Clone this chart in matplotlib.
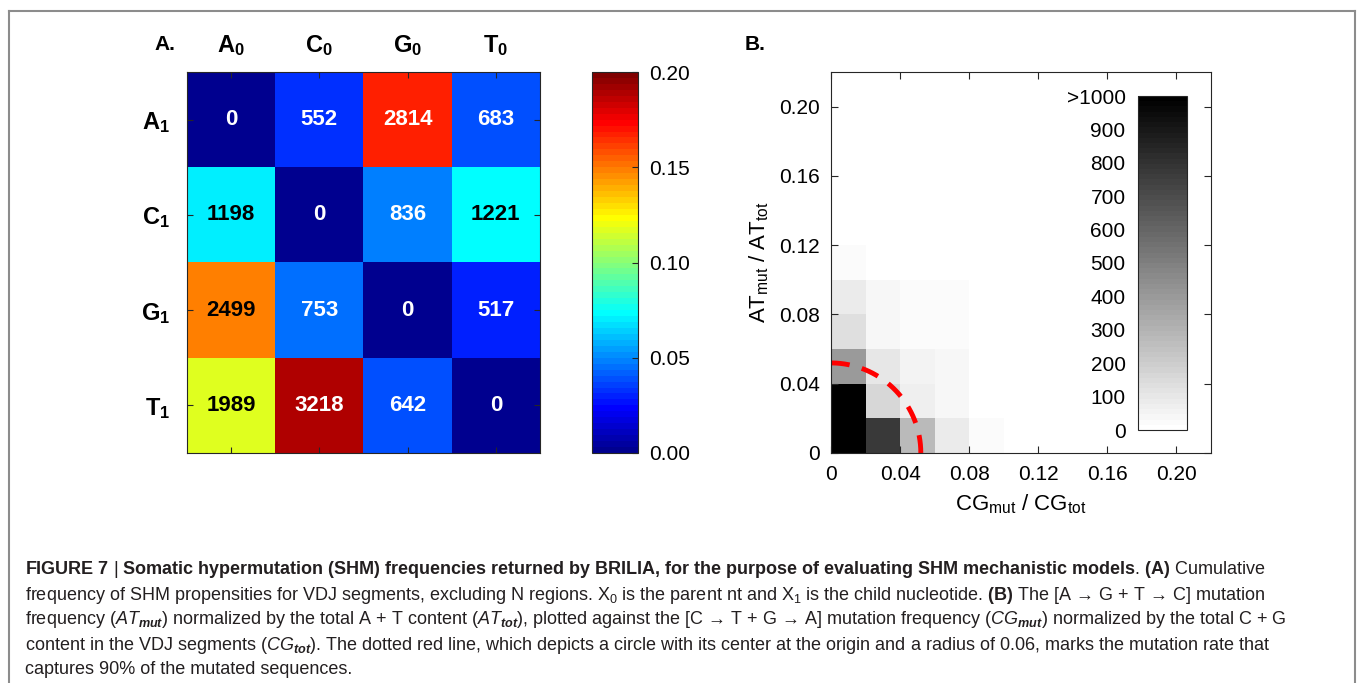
import numpy as np
import matplotlib
matplotlib.use("Agg")
import matplotlib.pyplot as plt
from matplotlib.lines import Line2D
from matplotlib.colors import ListedColormap

plt.rcParams['font.family'] = ['Liberation Sans', 'DejaVu Sans']
plt.rcParams['mathtext.fontset'] = 'custom'
plt.rcParams['mathtext.rm'] = 'Liberation Sans'
plt.rcParams['mathtext.it'] = 'Liberation Sans:italic'
plt.rcParams['mathtext.bf'] = 'Liberation Sans:bold'
plt.rcParams['mathtext.bfit'] = 'Liberation Sans:italic:bold'

# panel A: counts of parent (cols) -> child (rows) nucleotide
parent_labels = [r'$\mathbf{A_0}$', r'$\mathbf{C_0}$', r'$\mathbf{G_0}$', r'$\mathbf{T_0}$']
child_labels = [r'$\mathbf{A_1}$', r'$\mathbf{C_1}$', r'$\mathbf{G_1}$', r'$\mathbf{T_1}$']
counts_A1 = [0, 552, 2814, 683]
counts_C1 = [1198, 0, 836, 1221]
counts_G1 = [2499, 753, 0, 517]
counts_T1 = [1989, 3218, 642, 0]
cbarA_ticks = [0.00, 0.05, 0.10, 0.15, 0.20]

# panel B: 2d histogram, bins of 0.02 (rows = AT bins from 0, cols = CG bins from 0)
bin_edges = [0, 0.02, 0.04, 0.06, 0.08, 0.10, 0.12]
hist_row0 = [2500, 780, 270, 80, 30, 0]
hist_row1 = [2000, 165, 75, 45, 0, 0]
hist_row2 = [400, 100, 60, 45, 0, 0]
hist_row3 = [140, 40, 30, 30, 0, 0]
hist_row4 = [80, 40, 30, 25, 0, 0]
hist_row5 = [25, 0, 0, 0, 0, 0]
axis_ticks = [0, 0.04, 0.08, 0.12, 0.16, 0.20]
axis_ticklabels = ['0', '0.04', '0.08', '0.12', '0.16', '0.20']
cbarB_ticks = [0, 100, 200, 300, 400, 500, 600, 700, 800, 900, 1000]
cbarB_labels = ['0', '100', '200', '300', '400', '500', '600', '700', '800', '900', '>1000']
circle_r = 0.052


def matlab_jet(n=64):
    # same recipe as matlab's jet.m
    m = int(np.ceil(n / 4))
    u = np.concatenate([np.arange(1, m + 1) / m, np.ones(m - 1), np.arange(m, 0, -1) / m])
    g = int(np.ceil(m / 2)) - (1 if n % 4 == 1 else 0) + np.arange(1, len(u) + 1)
    r = g + m
    b = g - m
    J = np.zeros((n, 3))
    for col, idx in ((0, r), (1, g), (2, b)):
        ok = (idx >= 1) & (idx <= n)
        J[idx[ok] - 1, col] = u[ok]
    return ListedColormap(J)


W, H = 1358, 683
fig = plt.figure(figsize=(W / 100, H / 100), dpi=100)

def box(l, t, r, b):
    return [l / W, 1 - b / H, (r - l) / W, (b - t) / H]

axcol = '#262626'
fs = 15

# ---------------- panel A
counts = np.array([counts_A1, counts_C1, counts_G1, counts_T1], dtype=float)
freq = counts / counts.sum()
jet = matlab_jet(64)

axA = fig.add_axes(box(187, 72, 540, 453))
im = axA.imshow(freq, cmap=jet, vmin=0, vmax=0.2, aspect='auto')
for i in range(4):
    for j in range(4):
        r, g, b, _ = jet(freq[i, j] / 0.2)
        lum = 0.299 * r + 0.587 * g + 0.114 * b
        axA.text(j, i, '%d' % counts[i, j], ha='center', va='center',
                 fontsize=16, fontweight='bold', color='black' if lum > 0.5 else 'white')
axA.set_xticks(range(4))
axA.set_xticklabels(parent_labels, fontsize=17)
axA.set_yticks(range(4))
axA.set_yticklabels(child_labels, fontsize=17)
axA.xaxis.tick_top()
axA.tick_params(axis='x', which='both', direction='in', length=4, top=True, bottom=True,
                labeltop=True, labelbottom=False, pad=10, color=axcol)
axA.tick_params(axis='y', direction='in', length=4, left=True, right=True, pad=12, color=axcol)
for s in axA.spines.values():
    s.set_color(axcol)

caxA = fig.add_axes(box(592, 72, 638, 453))
cbA = fig.colorbar(im, cax=caxA, ticks=cbarA_ticks)
cbA.ax.set_yticklabels(['%.2f' % t for t in cbarA_ticks], fontsize=fs)
cbA.ax.tick_params(direction='in', length=4, pad=8, color=axcol)
cbA.outline.set_edgecolor(axcol)

fig.text(165 / W, 1 - 45 / H, 'A.', fontsize=fs, fontweight='bold', ha='center', va='center')

# ---------------- panel B
hist = np.array([hist_row0, hist_row1, hist_row2, hist_row3, hist_row4, hist_row5], dtype=float)
grays = plt.get_cmap('gray_r', 64)
axB = fig.add_axes(box(831, 72, 1211, 453))
mesh = axB.pcolormesh(bin_edges, bin_edges, np.clip(hist, 0, 1000), cmap=grays,
                      vmin=0, vmax=1000)
theta = np.linspace(0, np.pi / 2, 200)
axB.plot(circle_r * np.cos(theta), circle_r * np.sin(theta), color='red', lw=3.5,
         dashes=(3.7, 2.6))
axB.set_xlim(0, 0.22)
axB.set_ylim(0, 0.22)
axB.set_xticks(axis_ticks)
axB.set_xticklabels(axis_ticklabels, fontsize=fs)
axB.set_yticks(axis_ticks)
axB.set_yticklabels(axis_ticklabels, fontsize=fs)
axB.tick_params(direction='in', length=5, top=True, right=True, color=axcol)
axB.tick_params(axis='x', pad=9)
axB.tick_params(axis='y', pad=8)
for s in axB.spines.values():
    s.set_color(axcol)
axB.set_xlabel(r'$\mathrm{CG_{mut}\ /\ CG_{tot}}$', fontsize=16, labelpad=6)
axB.set_ylabel(r'$\mathrm{AT_{mut}\ /\ AT_{tot}}$', fontsize=16, labelpad=6)

caxB = fig.add_axes(box(1138, 96, 1187, 430))
cbB = fig.colorbar(mesh, cax=caxB, ticks=cbarB_ticks)
cbB.ax.yaxis.set_ticks_position('left')
cbB.ax.set_yticklabels(cbarB_labels, fontsize=fs)
cbB.ax.tick_params(length=0, pad=9)
cbB.outline.set_edgecolor(axcol)

fig.text(755 / W, 1 - 45 / H, 'B.', fontsize=fs, fontweight='bold', ha='center', va='center')

# ---------------- caption
def bf(s):
    return r'$\mathbf{' + s.replace(' ', r'\ ').replace(',', '{,}') + '}$'

cap_lines = [
    bf('FIGURE 7') + ' | ' + bf('Somatic hypermutation (SHM) frequencies returned by BRILIA, for the purpose of evaluating SHM mechanistic models')
    + '. ' + bf('(A)') + ' Cumulative',
    r'frequency of SHM propensities for VDJ segments, excluding N regions. $\mathrm{X_0}$ is the parent nt and $\mathrm{X_1}$ is the child nucleotide. '
    + bf('(B)') + ' The [A → G + T → C] mutation',
    r'frequency ($\mathit{AT}_{\mathbfit{mut}}$) normalized by the total A + T content ($\mathit{AT}_{\mathbfit{tot}}$), plotted against the [C → T + G → A] '
    r'mutation frequency ($\mathit{CG}_{\mathbfit{mut}}$) normalized by the total C + G',
    r'content in the VDJ segments ($\mathit{CG}_{\mathbfit{tot}}$). The dotted red line, which depicts a circle with its center at the origin and a radius of 0.06, marks the mutation rate that',
    'captures 90% of the mutated sequences.',
]
cap_y = [570, 595, 620, 646, 670]
for line, y in zip(cap_lines, cap_y):
    fig.text(25 / W, 1 - y / H, line, fontsize=13.0, color='#231f20', ha='left', va='center')

# frame around the figure
fcol = '#8c8c8c'
fig.add_artist(Line2D([9 / W, 9 / W], [0, 1 - 11 / H], color=fcol, lw=1.5))
fig.add_artist(Line2D([1355 / W, 1355 / W], [0, 1 - 11 / H], color=fcol, lw=1.5))
fig.add_artist(Line2D([9 / W, 1355 / W], [1 - 11 / H, 1 - 11 / H], color=fcol, lw=1.5))

fig.savefig('out.png', dpi=100)
